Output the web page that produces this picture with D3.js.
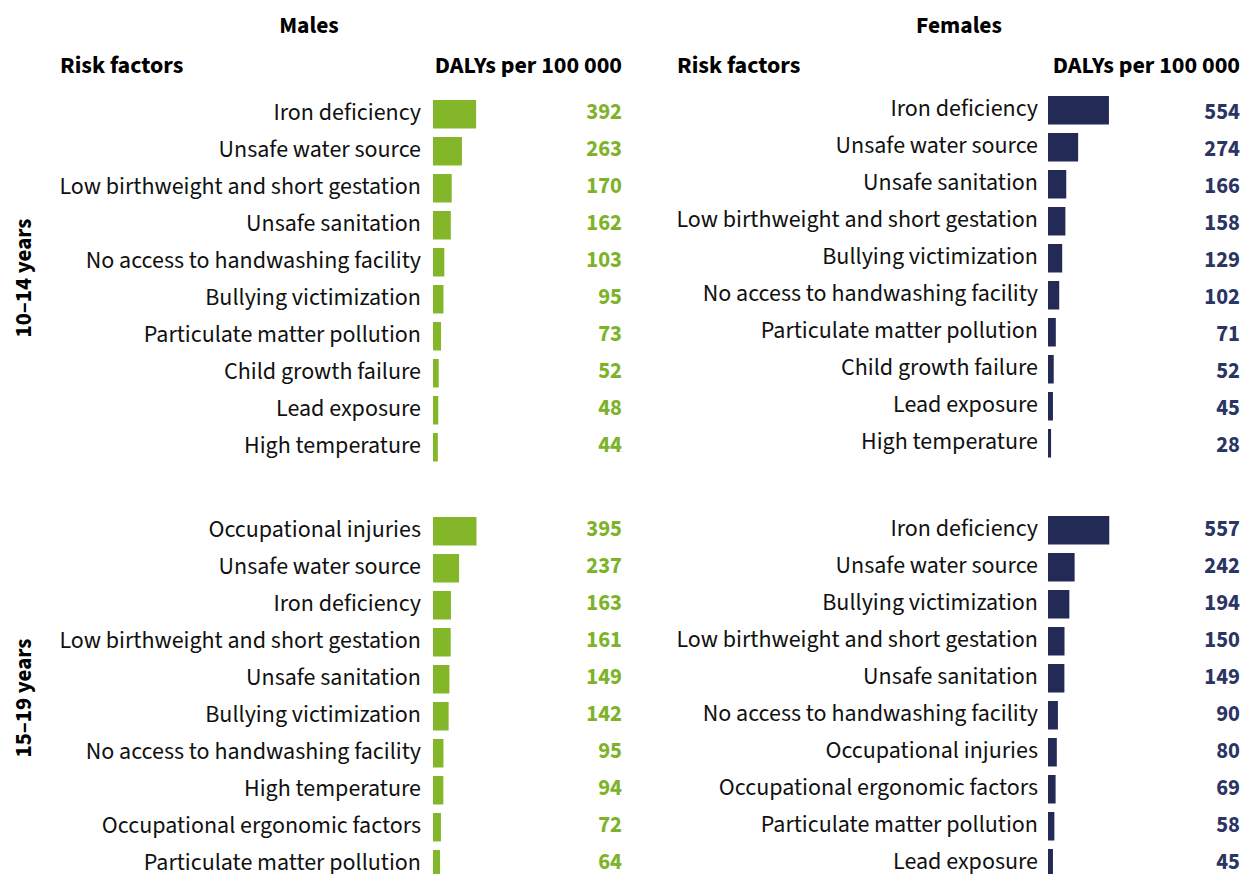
<!DOCTYPE html>
<html>
<head>
<meta charset="utf-8">
<script src="https://cdn.jsdelivr.net/npm/d3@7"></script>
<style>
  body { margin: 0; background: #fff; }
  svg text { font-family: "Source Sans Pro", "Source Sans 3", Lato, "Noto Sans", sans-serif; }
</style>
</head>
<body>
<div id="chart"></div>
<script>
// data (DALYs per 100 000)
var males1014Labels = ["Iron deficiency", "Unsafe water source", "Low birthweight and short gestation", "Unsafe sanitation",
  "No access to handwashing facility", "Bullying victimization", "Particulate matter pollution", "Child growth failure",
  "Lead exposure", "High temperature"];
var males1014Values = [392, 263, 170, 162, 103, 95, 73, 52, 48, 44];

var females1014Labels = ["Iron deficiency", "Unsafe water source", "Unsafe sanitation", "Low birthweight and short gestation",
  "Bullying victimization", "No access to handwashing facility", "Particulate matter pollution", "Child growth failure",
  "Lead exposure", "High temperature"];
var females1014Values = [554, 274, 166, 158, 129, 102, 71, 52, 45, 28];

var males1519Labels = ["Occupational injuries", "Unsafe water source", "Iron deficiency", "Low birthweight and short gestation",
  "Unsafe sanitation", "Bullying victimization", "No access to handwashing facility", "High temperature",
  "Occupational ergonomic factors", "Particulate matter pollution"];
var males1519Values = [395, 237, 163, 161, 149, 142, 95, 94, 72, 64];

var females1519Labels = ["Iron deficiency", "Unsafe water source", "Bullying victimization", "Low birthweight and short gestation",
  "Unsafe sanitation", "No access to handwashing facility", "Occupational injuries", "Occupational ergonomic factors",
  "Particulate matter pollution", "Lead exposure"];
var females1519Values = [557, 242, 194, 150, 149, 90, 80, 69, 58, 45];

var ageGroups = ["10–14 years", "15–19 years"];

var green = "#84b62a", greenText = "#7db32a";
var navy = "#222a55", navyText = "#2b3563";

var width = 1242, height = 874;

var svg = d3.select("#chart").append("svg")
  .attr("width", width).attr("height", height);

// shared value scale
var x = d3.scaleLinear().domain([0, 1000]).range([0, 110]);

var panels = [
  {labels: males1014Labels, values: males1014Values, x0: 433, y0: 95.75, dy: 0, col: green, txt: greenText, labelRight: 421, valRight: 622},
  {labels: females1014Labels, values: females1014Values, x0: 1048, y0: 95.75, dy: -4, col: navy, txt: navyText, labelRight: 1038, valRight: 1240},
  {labels: males1519Labels, values: males1519Values, x0: 433, y0: 512.75, dy: 0, col: green, txt: greenText, labelRight: 421, valRight: 622},
  {labels: females1519Labels, values: females1519Values, x0: 1048, y0: 512.75, dy: -1, col: navy, txt: navyText, labelRight: 1038, valRight: 1240}
];

panels.forEach(function(p) {
  var y = d3.scaleBand()
    .domain(p.labels)
    .range([p.y0, p.y0 + 370])
    .paddingInner(0.23).paddingOuter(0.115);

  var g = svg.append("g");
  var rows = g.selectAll("g.row")
    .data(p.labels.map(function(l, i) { return {label: l, value: p.values[i]}; }))
    .enter().append("g").attr("class", "row");

  rows.append("rect")
    .attr("x", p.x0)
    .attr("y", function(d) { return y(d.label) + p.dy; })
    .attr("width", function(d) { return x(d.value); })
    .attr("height", y.bandwidth())
    .attr("fill", p.col);

  rows.append("text")
    .attr("x", p.labelRight)
    .attr("y", function(d) { return y(d.label) + y.bandwidth() / 2 + 5.5 + p.dy; })
    .attr("text-anchor", "end")
    .attr("font-size", "24px")
    .attr("fill", "#111")
    .text(function(d) { return d.label; });

  rows.append("text")
    .attr("x", p.valRight)
    .attr("y", function(d) { return y(d.label) + y.bandwidth() / 2 + 4.5; })
    .attr("text-anchor", "end")
    .attr("font-size", "22.5px")
    .attr("font-weight", "bold")
    .attr("fill", p.txt)
    .text(function(d) { return d.value; });
});

// headings
var heads = [
  {t: "Males", x: 309, y: 33, a: "middle"},
  {t: "Females", x: 959, y: 33, a: "middle"},
  {t: "Risk factors", x: 60, y: 73, a: "start"},
  {t: "DALYs per 100 000", x: 622, y: 73, a: "end"},
  {t: "Risk factors", x: 677, y: 73, a: "start"},
  {t: "DALYs per 100 000", x: 1240, y: 73, a: "end"}
];
svg.selectAll("text.head").data(heads).enter().append("text")
  .attr("class", "head")
  .attr("x", function(d) { return d.x; })
  .attr("y", function(d) { return d.y; })
  .attr("text-anchor", function(d) { return d.a; })
  .attr("font-size", function(d) { return d.a === "middle" ? "23.5px" : "24px"; })
  .attr("font-weight", "bold")
  .attr("fill", "#000")
  .text(function(d) { return d.t; });

// age group labels
var ageY = [278, 698];
svg.selectAll("text.age").data(ageGroups).enter().append("text")
  .attr("class", "age")
  .attr("transform", function(d, i) { return "translate(31," + ageY[i] + ") rotate(-90)"; })
  .attr("text-anchor", "middle")
  .attr("font-size", "23px")
  .attr("font-weight", "bold")
  .attr("fill", "#000")
  .text(function(d) { return d; });
</script>
</body>
</html>
